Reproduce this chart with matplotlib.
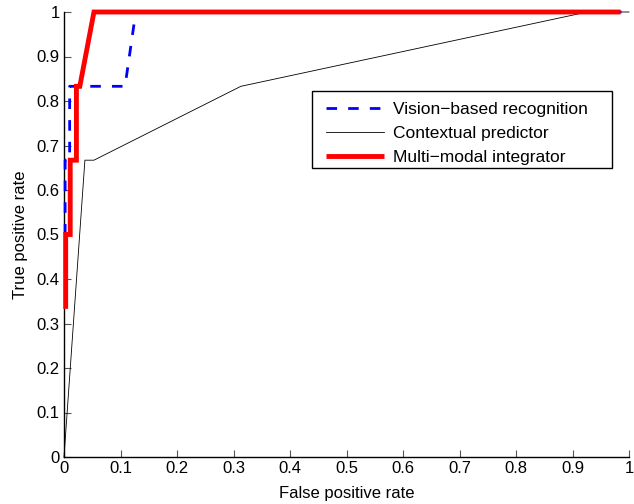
import matplotlib
matplotlib.use("Agg")
import matplotlib.pyplot as plt
from matplotlib.patches import Rectangle
import numpy as np

plt.rcParams['font.family'] = ['Liberation Sans', 'DejaVu Sans']

# Data
vision_fpr = [0.002, 0.002, 0.01, 0.01, 0.108, 0.127, 1.0]
vision_tpr = [0.5, 0.667, 0.667, 0.833, 0.833, 1.0, 1.0]

context_fpr = [0.0, 0.037, 0.053, 0.313, 0.926, 1.0]
context_tpr = [0.0, 0.667, 0.667, 0.833, 1.0, 1.0]

multi_fpr = [0.003, 0.003, 0.011, 0.011, 0.022, 0.022, 0.028, 0.053, 0.985]
multi_tpr = [0.333, 0.5, 0.5, 0.667, 0.667, 0.833, 0.833, 1.0, 1.0]

labels = ['Vision\u2212based recognition', 'Contextual predictor', 'Multi\u2212modal integrator']
xticks = np.round(np.arange(0, 1.01, 0.1), 1)
yticks = np.round(np.arange(0, 1.01, 0.1), 1)

W, H = 634, 504
fig = plt.figure(figsize=(W/100, H/100), dpi=100)
ax = fig.add_axes([64/W, 1-457/H, (629-64)/W, (457-12)/H])

ax.plot(vision_fpr, vision_tpr, color='#0000ff', lw=2.0, ls=(0, (3.8, 4.0)),
        label=labels[0], clip_on=False, zorder=3)
ax.plot(context_fpr, context_tpr, color='black', lw=0.6, label=labels[1],
        clip_on=False, zorder=2)
ax.plot(multi_fpr, multi_tpr, color='#ff0000', lw=3.5, label=labels[2],
        solid_capstyle='butt', solid_joinstyle='miter', clip_on=False, zorder=4)

ax.set_xlim(0, 1)
ax.set_ylim(0, 1)
ax.set_xticks(xticks)
ax.set_yticks(yticks)
ax.set_xticklabels(['0' if t == 0 else ('1' if t == 1 else f'{t:.1f}') for t in xticks])
ax.set_yticklabels(['0' if t == 0 else ('1' if t == 1 else f'{t:.1f}') for t in yticks])
ax.tick_params(direction='in', length=5, width=0.8, labelsize=12, color='#555555', pad=3)
for s in ['top', 'right']:
    ax.spines[s].set_visible(False)
for s in ['left', 'bottom']:
    ax.spines[s].set_linewidth(1.0)

ax.set_xlabel('False positive rate', fontsize=12, labelpad=7)
ax.set_ylabel('True positive rate', fontsize=12, labelpad=6)

leg = ax.legend(loc='upper left', bbox_to_anchor=(318/W, 1-94/H),
                bbox_transform=fig.transFigure, borderaxespad=0,
                fontsize=12.5, handlelength=3.33, handletextpad=0.52,
                labelspacing=0.5, borderpad=0.45, frameon=False)
leg.set_zorder(7)

# legend frame (MATLAB-style, wider than the entries)
ax.add_patch(Rectangle((312/W, 1-168/H), 300/W, 77/H, transform=fig.transFigure,
                       facecolor='white', edgecolor='black', lw=1.0, zorder=6,
                       clip_on=False))

fig.savefig('out.png', dpi=100)
